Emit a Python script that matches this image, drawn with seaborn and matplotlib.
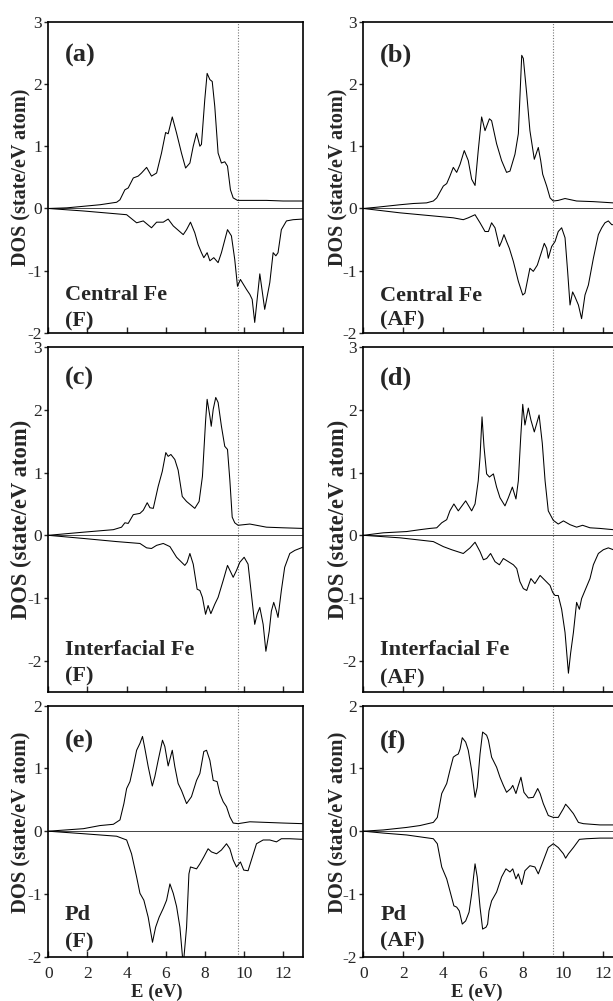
import numpy as np
import pandas as pd
import matplotlib
matplotlib.use("Agg")
import matplotlib.pyplot as plt
import matplotlib.transforms as mtransforms
import seaborn as sns

# ---------------- data ----------------
# panel (a) Central Fe (F)
e_a_up = [0.0, 0.94, 2.64, 3.49, 3.66, 3.91, 4.08, 4.34, 4.59, 4.76, 5.02, 5.27, 5.53, 5.78, 5.99, 6.12, 6.33, 6.55, 6.80, 7.01, 7.23, 7.40, 7.57, 7.74, 7.82, 7.99, 8.11, 8.25, 8.37, 8.50, 8.67, 8.84, 9.01, 9.15, 9.30, 9.44, 9.66, 10.29, 11.14, 11.99, 13.0]
dos_a_up = [0.0, 0.01, 0.06, 0.10, 0.14, 0.30, 0.33, 0.49, 0.52, 0.57, 0.66, 0.52, 0.57, 0.89, 1.22, 1.20, 1.47, 1.21, 0.89, 0.65, 0.73, 1.00, 1.21, 1.00, 1.03, 1.75, 2.17, 2.07, 2.04, 1.64, 0.89, 0.73, 0.75, 0.68, 0.30, 0.17, 0.13, 0.13, 0.13, 0.12, 0.12]
e_a_dn = [0.0, 1.79, 4.00, 4.51, 4.85, 5.27, 5.53, 5.87, 6.12, 6.38, 6.89, 7.06, 7.26, 7.48, 7.65, 7.82, 7.94, 8.11, 8.25, 8.45, 8.67, 8.84, 9.15, 9.35, 9.52, 9.66, 9.81, 10.12, 10.29, 10.41, 10.54, 10.80, 11.05, 11.31, 11.48, 11.62, 11.73, 11.90, 12.16, 12.50, 13.0]
dos_a_dn = [0.0, -0.04, -0.10, -0.23, -0.20, -0.31, -0.22, -0.22, -0.17, -0.28, -0.42, -0.34, -0.22, -0.39, -0.58, -0.71, -0.79, -0.71, -0.84, -0.79, -0.87, -0.71, -0.34, -0.44, -0.82, -1.25, -1.14, -1.30, -1.38, -1.46, -1.83, -1.05, -1.62, -1.19, -0.71, -0.76, -0.71, -0.34, -0.20, -0.18, -0.17]

# panel (b) Central Fe (AF)
e_b_up = [0.0, 0.67, 1.84, 2.51, 3.17, 3.51, 3.68, 4.01, 4.18, 4.34, 4.51, 4.68, 4.85, 5.06, 5.26, 5.43, 5.60, 5.76, 5.93, 6.10, 6.32, 6.43, 6.68, 6.93, 7.18, 7.35, 7.60, 7.77, 7.94, 8.02, 8.19, 8.35, 8.57, 8.77, 8.89, 8.99, 9.19, 9.36, 9.52, 9.77, 10.11, 10.69, 11.53, 12.53, 13.0]
dos_b_up = [0.0, 0.02, 0.06, 0.08, 0.09, 0.12, 0.17, 0.36, 0.40, 0.52, 0.66, 0.58, 0.71, 0.93, 0.77, 0.47, 0.37, 0.93, 1.47, 1.25, 1.44, 1.41, 1.04, 0.77, 0.58, 0.60, 0.87, 1.20, 2.46, 2.41, 1.84, 1.25, 0.79, 0.98, 0.77, 0.55, 0.36, 0.17, 0.12, 0.13, 0.16, 0.12, 0.11, 0.09, 0.09]
e_b_dn = [0.0, 1.84, 3.51, 4.51, 5.01, 5.26, 5.60, 5.85, 6.10, 6.27, 6.43, 6.60, 6.82, 6.93, 7.05, 7.18, 7.32, 7.52, 7.77, 7.99, 8.10, 8.35, 8.52, 8.72, 8.89, 9.07, 9.19, 9.27, 9.44, 9.61, 9.77, 9.94, 10.11, 10.24, 10.36, 10.49, 10.61, 10.78, 10.94, 11.11, 11.28, 11.53, 11.78, 11.95, 12.11, 12.28, 12.45, 13.0]
dos_b_dn = [0.0, -0.07, -0.12, -0.15, -0.18, -0.15, -0.10, -0.23, -0.37, -0.37, -0.23, -0.31, -0.61, -0.53, -0.42, -0.53, -0.64, -0.85, -1.17, -1.39, -1.36, -0.96, -1.01, -0.91, -0.74, -0.56, -0.64, -0.80, -0.61, -0.53, -0.37, -0.31, -0.47, -1.01, -1.55, -1.34, -1.42, -1.55, -1.77, -1.39, -1.23, -0.80, -0.42, -0.31, -0.23, -0.20, -0.26, -0.26]

# panel (c) Interfacial Fe (F)
e_c_up = [0.0, 1.79, 3.32, 3.74, 3.91, 4.08, 4.34, 4.68, 4.85, 5.05, 5.19, 5.36, 5.61, 5.82, 6.00, 6.12, 6.26, 6.46, 6.63, 6.84, 7.06, 7.48, 7.70, 7.87, 8.03, 8.11, 8.25, 8.32, 8.42, 8.55, 8.67, 8.84, 9.01, 9.15, 9.27, 9.39, 9.52, 9.69, 10.29, 11.14, 11.99, 13.0]
dos_c_up = [0.0, 0.05, 0.09, 0.13, 0.20, 0.19, 0.33, 0.35, 0.40, 0.52, 0.44, 0.43, 0.78, 1.02, 1.32, 1.26, 1.29, 1.21, 1.04, 0.62, 0.54, 0.43, 0.54, 0.94, 1.82, 2.17, 1.90, 1.74, 2.01, 2.20, 2.12, 1.74, 1.42, 1.37, 0.88, 0.29, 0.20, 0.16, 0.18, 0.13, 0.12, 0.11]
e_c_dn = [0.0, 1.79, 3.49, 4.68, 5.02, 5.27, 5.53, 5.87, 6.21, 6.55, 6.97, 7.09, 7.23, 7.40, 7.60, 7.74, 7.87, 8.03, 8.16, 8.30, 8.50, 8.67, 8.93, 9.15, 9.32, 9.44, 9.61, 9.78, 10.00, 10.20, 10.37, 10.54, 10.66, 10.80, 10.97, 11.11, 11.28, 11.39, 11.51, 11.65, 11.73, 11.90, 12.07, 12.33, 12.59, 13.0]
dos_c_dn = [0.0, -0.05, -0.10, -0.13, -0.20, -0.21, -0.16, -0.13, -0.18, -0.35, -0.48, -0.43, -0.29, -0.46, -0.86, -0.88, -0.99, -1.26, -1.12, -1.25, -1.10, -0.99, -0.72, -0.48, -0.59, -0.67, -0.56, -0.43, -0.35, -0.46, -0.94, -1.42, -1.26, -1.15, -1.42, -1.85, -1.53, -1.21, -1.07, -1.21, -1.31, -0.88, -0.51, -0.29, -0.24, -0.19]

# panel (d) Interfacial Fe (AF)
e_d_up = [0.0, 1.00, 2.17, 2.84, 3.34, 3.68, 3.93, 4.18, 4.34, 4.54, 4.76, 5.13, 5.43, 5.60, 5.76, 5.85, 5.95, 6.05, 6.18, 6.32, 6.52, 6.68, 6.85, 7.10, 7.27, 7.47, 7.65, 7.77, 7.89, 7.99, 8.10, 8.27, 8.40, 8.57, 8.81, 8.97, 9.11, 9.27, 9.52, 9.77, 10.03, 10.36, 10.69, 10.99, 11.36, 11.86, 12.53, 13.0]
dos_d_up = [0.0, 0.04, 0.06, 0.09, 0.11, 0.12, 0.20, 0.25, 0.39, 0.50, 0.39, 0.55, 0.39, 0.50, 0.87, 1.25, 1.89, 1.41, 0.98, 0.93, 0.98, 0.77, 0.60, 0.47, 0.60, 0.77, 0.58, 0.87, 1.57, 2.09, 1.76, 2.03, 1.84, 1.65, 1.92, 1.47, 0.87, 0.39, 0.24, 0.18, 0.23, 0.17, 0.13, 0.16, 0.12, 0.11, 0.09, 0.09]
e_d_dn = [0.0, 1.84, 3.51, 4.01, 4.43, 5.01, 5.35, 5.60, 5.85, 6.02, 6.18, 6.38, 6.60, 6.82, 7.02, 7.27, 7.52, 7.69, 7.85, 8.02, 8.19, 8.40, 8.60, 8.86, 9.11, 9.36, 9.49, 9.61, 9.77, 9.94, 10.11, 10.28, 10.39, 10.53, 10.69, 10.83, 10.94, 11.11, 11.36, 11.53, 11.78, 12.03, 12.28, 12.53, 13.0]
dos_d_dn = [0.0, -0.04, -0.10, -0.18, -0.23, -0.29, -0.20, -0.11, -0.26, -0.39, -0.37, -0.29, -0.42, -0.47, -0.37, -0.42, -0.47, -0.53, -0.74, -0.85, -0.88, -0.69, -0.77, -0.64, -0.72, -0.80, -0.91, -0.96, -0.96, -1.18, -1.55, -2.20, -1.88, -1.55, -1.07, -1.18, -1.01, -0.88, -0.69, -0.47, -0.29, -0.23, -0.20, -0.23, -0.23]

# panel (e) Pd (F)
e_e_up = [0.0, 1.79, 2.64, 3.32, 3.66, 3.86, 4.00, 4.17, 4.34, 4.51, 4.68, 4.81, 4.93, 5.10, 5.31, 5.44, 5.61, 5.83, 5.95, 6.12, 6.33, 6.46, 6.63, 6.80, 7.06, 7.31, 7.57, 7.74, 7.94, 8.08, 8.25, 8.42, 8.62, 8.76, 8.93, 9.10, 9.27, 9.44, 9.69, 10.29, 11.14, 11.99, 13.0]
dos_e_up = [0.0, 0.04, 0.09, 0.11, 0.18, 0.44, 0.68, 0.79, 1.03, 1.29, 1.40, 1.51, 1.32, 1.03, 0.72, 0.87, 1.13, 1.45, 1.35, 1.04, 1.29, 1.03, 0.76, 0.65, 0.44, 0.55, 0.81, 0.92, 1.27, 1.29, 1.13, 0.81, 0.79, 0.60, 0.47, 0.39, 0.23, 0.13, 0.12, 0.15, 0.14, 0.13, 0.12]
e_e_dn = [0.0, 1.79, 3.49, 4.00, 4.25, 4.51, 4.68, 4.88, 5.10, 5.32, 5.48, 5.66, 5.87, 6.04, 6.21, 6.38, 6.55, 6.72, 6.89, 7.06, 7.18, 7.26, 7.57, 7.74, 7.94, 8.16, 8.33, 8.59, 8.84, 9.10, 9.27, 9.44, 9.61, 9.81, 9.98, 10.20, 10.37, 10.63, 10.97, 11.31, 11.65, 11.90, 12.33, 13.0]
dos_e_dn = [0.0, -0.04, -0.08, -0.14, -0.36, -0.73, -0.99, -1.10, -1.37, -1.77, -1.53, -1.37, -1.23, -1.10, -0.84, -0.99, -1.20, -1.53, -2.14, -1.53, -0.68, -0.57, -0.60, -0.52, -0.41, -0.28, -0.33, -0.36, -0.30, -0.20, -0.28, -0.46, -0.57, -0.49, -0.62, -0.63, -0.46, -0.20, -0.14, -0.14, -0.17, -0.12, -0.12, -0.13]

# panel (f) Pd (AF)
e_f_up = [0.0, 1.00, 2.17, 2.84, 3.51, 3.71, 3.93, 4.18, 4.34, 4.51, 4.64, 4.76, 4.85, 4.96, 5.13, 5.26, 5.43, 5.60, 5.71, 5.85, 5.98, 6.18, 6.27, 6.43, 6.68, 6.85, 7.02, 7.18, 7.39, 7.49, 7.65, 7.77, 7.90, 8.05, 8.27, 8.52, 8.74, 8.86, 9.02, 9.27, 9.52, 9.77, 10.03, 10.14, 10.28, 10.53, 10.78, 11.03, 11.86, 13.0]
dos_f_up = [0.0, 0.02, 0.06, 0.09, 0.14, 0.22, 0.60, 0.76, 0.97, 1.18, 1.21, 1.23, 1.31, 1.49, 1.42, 1.29, 0.97, 0.54, 0.70, 1.23, 1.58, 1.53, 1.45, 1.18, 1.02, 0.86, 0.73, 0.62, 0.68, 0.73, 0.60, 0.73, 0.86, 0.62, 0.53, 0.54, 0.68, 0.60, 0.44, 0.25, 0.22, 0.22, 0.36, 0.43, 0.38, 0.28, 0.14, 0.12, 0.10, 0.10]
e_f_dn = [0.0, 1.00, 2.17, 3.51, 3.71, 3.93, 4.18, 4.34, 4.54, 4.68, 4.81, 4.96, 5.13, 5.30, 5.43, 5.60, 5.71, 5.85, 5.98, 6.15, 6.23, 6.30, 6.43, 6.68, 6.93, 7.15, 7.35, 7.49, 7.65, 7.77, 7.94, 8.10, 8.35, 8.60, 8.77, 9.02, 9.27, 9.52, 9.77, 10.03, 10.14, 10.28, 10.53, 10.83, 11.19, 11.86, 13.0]
dos_f_dn = [0.0, -0.03, -0.06, -0.12, -0.20, -0.57, -0.76, -0.95, -1.19, -1.21, -1.27, -1.48, -1.43, -1.29, -1.00, -0.52, -0.73, -1.21, -1.56, -1.53, -1.48, -1.27, -1.11, -0.97, -0.73, -0.60, -0.65, -0.60, -0.76, -0.68, -0.85, -0.63, -0.55, -0.57, -0.68, -0.47, -0.26, -0.20, -0.26, -0.36, -0.43, -0.36, -0.26, -0.13, -0.12, -0.11, -0.11]

panel_tags = ["(a)", "(b)", "(c)", "(d)", "(e)", "(f)"]
site_names = ["Central Fe", "Central Fe", "Interfacial Fe", "Interfacial Fe", "Pd", "Pd"]
order_names = ["(F)", "(AF)", "(F)", "(AF)", "(F)", "(AF)"]
fermi_levels = [9.68, 9.53, 9.68, 9.53, 9.68, 9.53]
y_limits = [(-2, 3), (-2, 3), (-2.5, 3), (-2.5, 3), (-2, 2), (-2, 2)]
y_ticks = [[-2, -1, 0, 1, 2, 3], [-2, -1, 0, 1, 2, 3], [-2, -1, 0, 1, 2, 3], [-2, -1, 0, 1, 2, 3],
           [-2, -1, 0, 1, 2], [-2, -1, 0, 1, 2]]
x_ticks = [0, 2, 4, 6, 8, 10, 12]
y_label = "DOS (state/eV atom)"
x_label = "E (eV)"

curves = [
    (e_a_up, dos_a_up, e_a_dn, dos_a_dn),
    (e_b_up, dos_b_up, e_b_dn, dos_b_dn),
    (e_c_up, dos_c_up, e_c_dn, dos_c_dn),
    (e_d_up, dos_d_up, e_d_dn, dos_d_dn),
    (e_e_up, dos_e_up, e_e_dn, dos_e_dn),
    (e_f_up, dos_f_up, e_f_dn, dos_f_dn),
]

# ---------------- style ----------------
sns.set_style("ticks")
plt.rcParams["font.family"] = ["Liberation Serif", "DejaVu Serif"]
plt.rcParams["axes.unicode_minus"] = False
plt.rcParams["axes.linewidth"] = 1.2

W, H = 613, 1001
fig = plt.figure(figsize=(W / 100, H / 100), dpi=100)

# pixel layout: (left, top, right, bottom)
col_px = [(48.3, 302.9), (363.3, 622.7)]
row_px = [(21.7, 333.0), (347.3, 692.0), (705.7, 956.7)]

# per-panel text positions (axes fraction)
tag_y = [0.93, 0.93, 0.944, 0.944, 0.905, 0.905]
site_y = [0.106, 0.103, 0.107, 0.107, 0.146, 0.146]
ord_y = [0.022, 0.025, 0.030, 0.025, 0.037, 0.04]
ylab_size = [14.5, 14.5, 16.3, 16.3, 14.9, 14.9]
ylab_ypos = [0.5, 0.5, 0.5, 0.5, 0.537, 0.537]

for i in range(6):
    r, c = divmod(i, 2)
    l, rr = col_px[c]
    t, b = row_px[r]
    ax = fig.add_axes([l / W, (H - b) / H, (rr - l) / W, (b - t) / H])
    eu, du, ed, dd = curves[i]
    df_up = pd.DataFrame({"E": eu, "DOS": du})
    df_dn = pd.DataFrame({"E": ed, "DOS": dd})
    sns.lineplot(data=df_up, x="E", y="DOS", ax=ax, color="black", lw=0.75, sort=False, estimator=None)
    sns.lineplot(data=df_dn, x="E", y="DOS", ax=ax, color="black", lw=0.75, sort=False, estimator=None)
    ax.axhline(0, color="#444444", lw=0.7, zorder=1)
    ax.axvline(fermi_levels[i], color="#777777", lw=0.8, ls=(0, (1, 1.5)), zorder=1)
    ax.set_xlim(0, 13)
    ax.set_ylim(*y_limits[i])
    ax.set_yticks(y_ticks[i])
    ax.set_xticks(x_ticks)
    for sp in ax.spines.values():
        sp.set_visible(True)
        sp.set_linewidth(1.2)
        sp.set_color("black")
    ax.tick_params(axis="y", direction="out", length=3, width=1.0, pad=1.5, labelsize=12.5)
    ax.tick_params(axis="x", direction="in", length=4, width=1.0, pad=7, labelsize=12.5)
    ax.set_ylabel(y_label, fontsize=ylab_size[i], fontweight="bold", va="center")
    ax.yaxis.set_label_coords(-27.0 / (rr - l) if c == 0 else -25.0 / (rr - l), ylab_ypos[i])
    if r == 2:
        ax.set_xlabel(x_label, fontsize=13.5, fontweight="bold", va="center")
        ax.xaxis.set_label_coords(0.427 if c == 0 else 0.438, -36.0 / (b - t))
    else:
        ax.set_xlabel("")
        ax.set_xticklabels([])
    trans = mtransforms.blended_transform_factory(ax.transData, ax.transAxes)
    ax.text(0.85, tag_y[i], panel_tags[i], transform=trans, fontsize=19, fontweight="bold",
            va="top", ha="left")
    ax.text(0.85, site_y[i], site_names[i], transform=trans, fontsize=16, fontweight="bold",
            va="baseline", ha="left")
    ax.text(0.85, ord_y[i], order_names[i], transform=trans, fontsize=16, fontweight="bold",
            va="baseline", ha="left")

fig.savefig("out.png", dpi=100)
